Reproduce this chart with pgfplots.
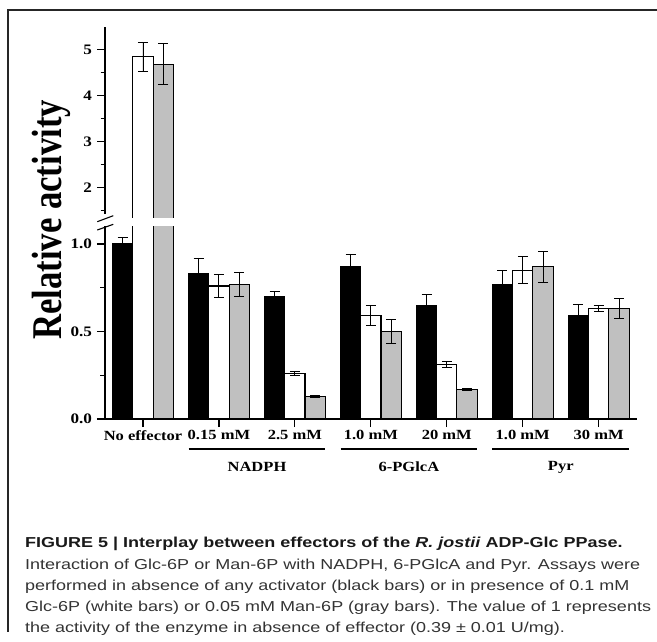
\documentclass[border=0pt]{standalone}
\usepackage{fontspec}
\setmainfont{Liberation Serif}
\newfontfamily\capfont{Liberation Sans}
\usepackage{graphicx}
\usepackage{pgfplots}
\pgfplotsset{compat=1.18}
\usepackage{pgfplotstable}

\pgfplotstableread{
x b be w we g ge
0 1.00 0.035 4.85 0.32 4.69 0.44
1 0.83 0.090 0.76 0.065 0.77 0.070
2 0.70 0.030 0.26 0.012 0.13 0.006
3 0.87 0.073 0.59 0.058 0.50 0.070
4 0.65 0.063 0.31 0.018 0.17 0.006
5 0.77 0.080 0.85 0.078 0.87 0.087
6 0.59 0.063 0.63 0.018 0.63 0.058
}\data

\definecolor{bargray}{RGB}{192,192,192}
\newcommand\sx[1]{\scalebox{1.18}[1]{#1}}
\newcommand\scp[1]{\scalebox{1.25}[1]{#1}}
\newcommand\tickf{\fontsize{14.5}{14.5}\selectfont\bfseries}
\newcommand\catf{\fontsize{14}{14}\selectfont\bfseries}
\newcommand\capf{\capfont\fontsize{14.4}{14.4}\selectfont}

\pgfplotsset{
  common/.style={
    scale only axis, width=531.7pt,
    xmin=-0.5, xmax=6.5,
    ybar=0pt, bar width=0.267,
    tick align=outside,
    major tick length=8pt, minor tick length=4.5pt,
    axis line style={line width=1.3pt, black},
    tick style={line width=1.2pt, black},
    yticklabel style={font=\tickf, xshift=-1.5pt},
    xticklabel style={font=\catf},
  },
  errs/.style={error bars/.cd, y dir=both, y explicit,
    error bar style={line width=0.9pt, black},
    error mark options={rotate=90, mark size=5pt, line width=0.9pt, black}},
}

\begin{document}
\begin{tikzpicture}[x=1pt,y=1pt]
\useasboundingbox (0,0) rectangle (657,641);
% frame
\draw[line width=1.2pt, color=black!85] (657,631) -- (8,631) -- (8,9);

% upper segment
\begin{axis}[common, at={(105pt,421pt)}, anchor=south west,
  height=193.2pt, ymin=1.3, ymax=5.5,
  restrict y to domain=1.3:6,
  axis x line=none, axis y line*=left,
  ytick={2,3,4,5}, yticklabels={\sx{2},\sx{3},\sx{4},\sx{5}},
  minor ytick={1.5,2.5,3.5,4.5}]
\addplot[fill=black, draw=black, line width=1.1pt, errs] table[x=x, y=b, y error=be]{\data};
\addplot[fill=white, draw=black, line width=1.1pt, errs] table[x=x, y=w, y error=we]{\data};
\addplot[fill=bargray, draw=black, line width=1.1pt, errs] table[x=x, y=g, y error=ge]{\data};
\end{axis}

% lower segment
\begin{axis}[common, at={(105pt,222pt)}, anchor=south west,
  height=192.5pt, ymin=0, ymax=1.1,
  axis x line*=bottom, axis y line*=left,
  ytick={0,0.5,1}, yticklabels={\sx{0.0},\sx{0.5},\sx{1.0}},
  minor ytick={0.25,0.75},
  xtick={0,1,2,3,4,5,6},
  xticklabels={\sx{No effector},\sx{0.15 mM},\sx{2.5 mM},\sx{1.0 mM},\sx{20 mM},\sx{1.0 mM},\sx{30 mM}}]
\addplot[fill=black, draw=black, line width=1.1pt, errs] table[x=x, y=b, y error=be]{\data};
\addplot[fill=white, draw=black, line width=1.1pt, errs] table[x=x, y=w, y error=we]{\data};
\addplot[fill=bargray, draw=black, line width=1.1pt, errs] table[x=x, y=g, y error=ge]{\data};
\end{axis}

% axis break (gap through the broken bars and axis)
\fill[white] (125,420.6) rectangle (182,423);
\fill[white] (102,415) rectangle (109,427);
\draw[line width=1.1pt] (97.3,419.3) -- (113.3,425.3);
\draw[line width=1.1pt] (97.3,411) -- (113.3,416.7);

% y label
\node[rotate=90, anchor=base, inner sep=0pt, font=\fontsize{34.7}{34.7}\selectfont\bfseries] at (61.7,421) {\scalebox{1}[1.22]{Relative activity}};

% group brackets
\draw[line width=1.4pt] (188.6,192) -- (325.3,192);
\draw[line width=1.4pt] (340.5,192) -- (477.2,192);
\draw[line width=1.4pt] (492.4,192) -- (629.1,192);
\node[font=\catf, inner sep=0pt] at (257,174) {\sx{NADPH}};
\node[font=\catf, inner sep=0pt] at (408.9,174) {\sx{6-PGlcA}};
\node[font=\catf, inner sep=0pt] at (560.8,174) {\sx{Pyr}};

% caption
\node[anchor=base west, inner sep=0pt, font=\capf\bfseries, text=black!90] at (25,93) {\scp{FIGURE 5 | Interplay between effectors of the \textit{R. jostii} ADP-Glc PPase.}};
\node[anchor=base west, inner sep=0pt, font=\capf, text=black!80] at (25,71.5) {\scp{Interaction of Glc-6P or Man-6P with NADPH, 6-PGlcA and Pyr. Assays were}};
\node[anchor=base west, inner sep=0pt, font=\capf, text=black!80] at (25,50.5) {\scp{performed in absence of any activator (black bars) or in presence of 0.1 mM}};
\node[anchor=base west, inner sep=0pt, font=\capf, text=black!80] at (25,29.5) {\scp{Glc-6P (white bars) or 0.05 mM Man-6P (gray bars). The value of 1 represents}};
\node[anchor=base west, inner sep=0pt, font=\capf, text=black!80] at (25,8.5) {\scp{the activity of the enzyme in absence of effector (0.39 ± 0.01 U/mg).}};
\end{tikzpicture}
\end{document}
